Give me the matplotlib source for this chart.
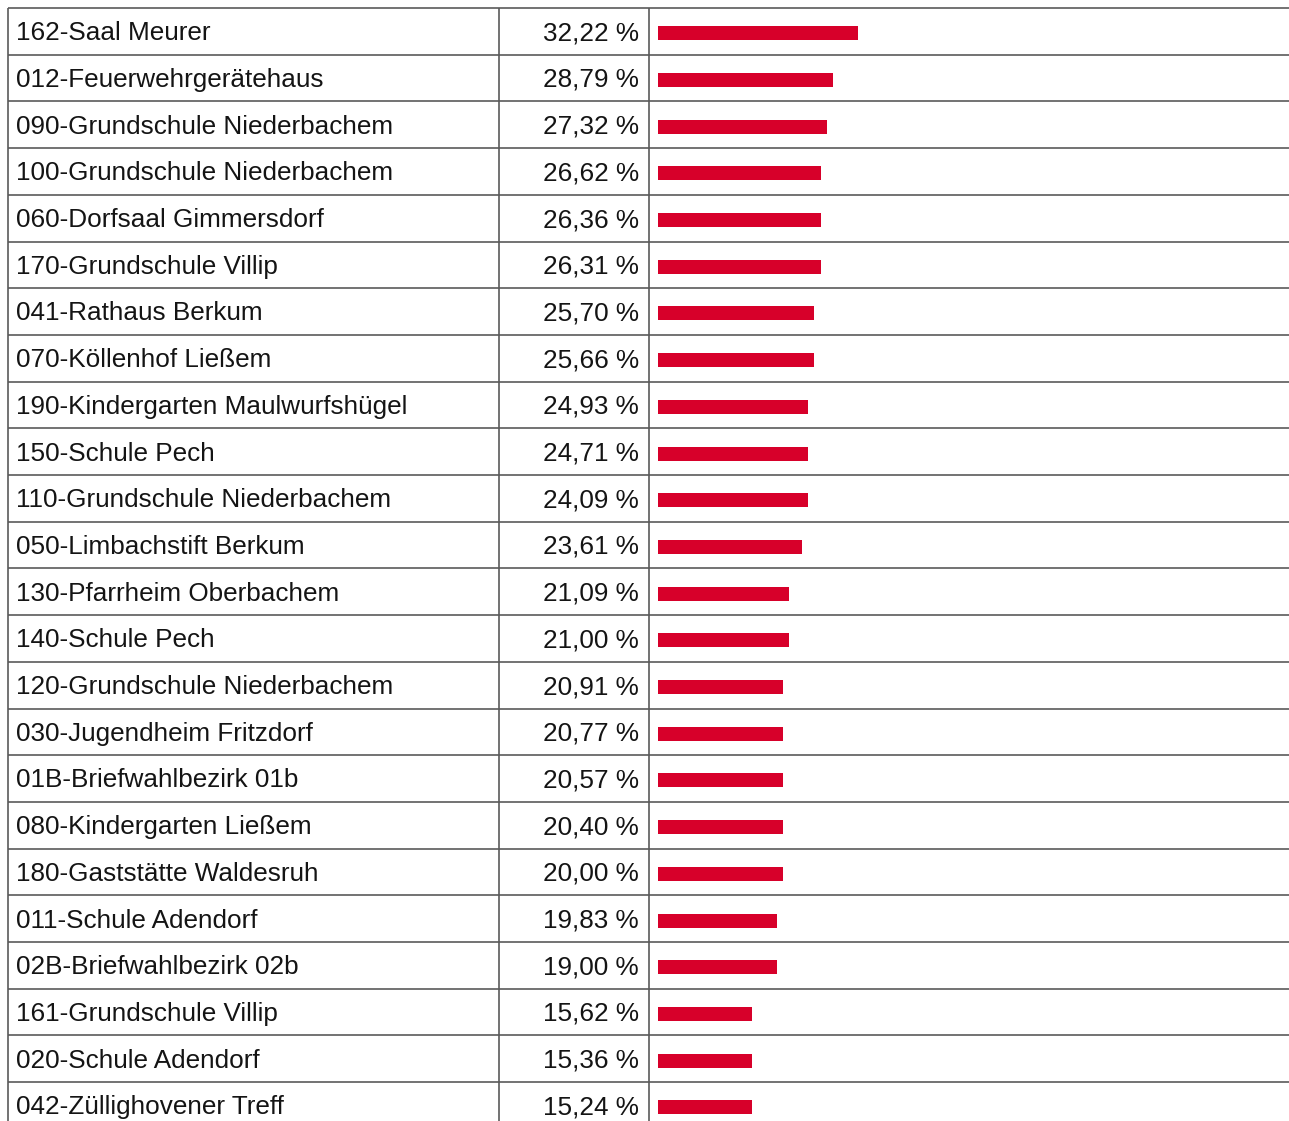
#!/usr/bin/env python3
"""Turnout per polling district: table with label, value and a bar."""

import matplotlib
matplotlib.use("Agg")
import matplotlib.pyplot as plt
import numpy as np

DISTRICTS = [
    "162-Saal Meurer",
    "012-Feuerwehrgerätehaus",
    "090-Grundschule Niederbachem",
    "100-Grundschule Niederbachem",
    "060-Dorfsaal Gimmersdorf",
    "170-Grundschule Villip",
    "041-Rathaus Berkum",
    "070-Köllenhof Ließem",
    "190-Kindergarten Maulwurfshügel",
    "150-Schule Pech",
    "110-Grundschule Niederbachem",
    "050-Limbachstift Berkum",
    "130-Pfarrheim Oberbachem",
    "140-Schule Pech",
    "120-Grundschule Niederbachem",
    "030-Jugendheim Fritzdorf",
    "01B-Briefwahlbezirk 01b",
    "080-Kindergarten Ließem",
    "180-Gaststätte Waldesruh",
    "011-Schule Adendorf",
    "02B-Briefwahlbezirk 02b",
    "161-Grundschule Villip",
    "020-Schule Adendorf",
    "042-Züllighovener Treff",
]

PERCENT = [
    32.22, 28.79, 27.32, 26.62, 26.36, 26.31, 25.70, 25.66, 24.93, 24.71,
    24.09, 23.61, 21.09, 21.00, 20.91, 20.77, 20.57, 20.40, 20.00, 19.83,
    19.00, 15.62, 15.36, 15.24,
]

W, H = 1289, 1121
TOP, ROW_H = 8, 46.7
COL_X = [8, 499, 649]
BAR_X0 = 658
PX_PER_PCT = 6.25
LINE = "#5a5a5a"
RED = "#d7002a"
FS = 18.8

plt.rcParams["font.family"] = ["Liberation Sans", "DejaVu Sans"]

fig = plt.figure(figsize=(W / 100, H / 100), dpi=100)
y_lim = ((H - TOP) / ROW_H, -TOP / ROW_H)

# table grid and text, x in pixels, y in rows
tab = fig.add_axes([0, 0, 1, 1])
tab.set_xlim(0, W)
tab.set_ylim(*y_lim)
tab.axis("off")

n = len(DISTRICTS)
for i in range(n + 1):
    tab.plot([COL_X[0], W], [i, i], color=LINE, lw=1.2, solid_capstyle="butt")
for x in COL_X:
    tab.plot([x, x], [0, y_lim[0]], color=LINE, lw=1.2, solid_capstyle="butt")

for i, (name, val) in enumerate(zip(DISTRICTS, PERCENT)):
    base = i + 0.69
    tab.text(16, base, name, fontsize=FS, va="baseline", ha="left", color="#141414")
    label = f"{val:.2f}".replace(".", ",") + " %"
    tab.text(639, base, label, fontsize=FS, va="baseline", ha="right", color="#141414")

# bars, x in percent (whole percent steps)
bar_ax = fig.add_axes([BAR_X0 / W, 0, 1 - BAR_X0 / W, 1])
bar_ax.set_xlim(0, (W - BAR_X0) / PX_PER_PCT)
bar_ax.set_ylim(*y_lim)
bar_ax.axis("off")
rows = np.arange(n) + 0.54
bar_ax.barh(rows, np.floor(PERCENT), height=0.3, left=0, color=RED, linewidth=0)

fig.savefig("out.png", dpi=100)
